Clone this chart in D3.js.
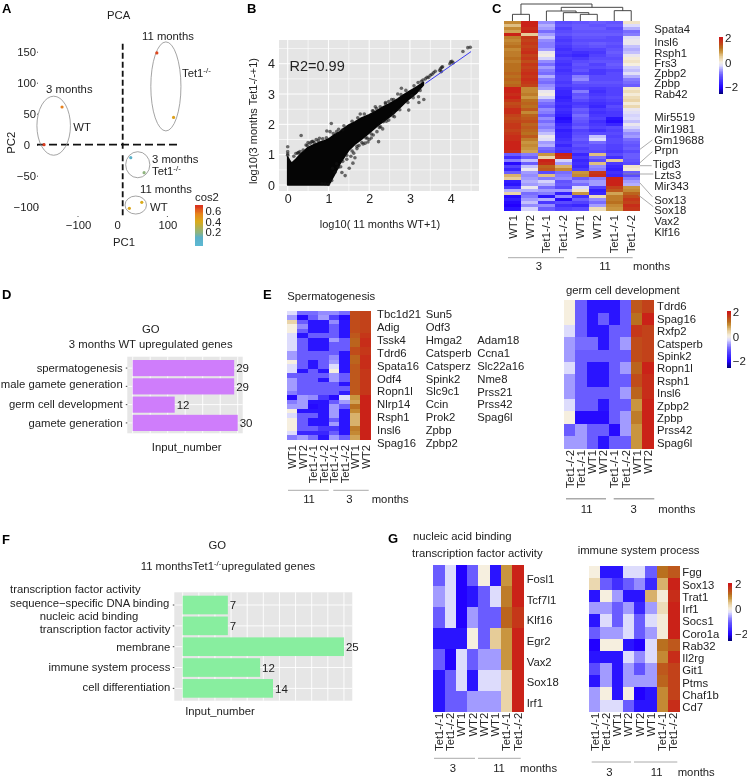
<!DOCTYPE html>
<html><head><meta charset="utf-8">
<script src="https://cdnjs.cloudflare.com/ajax/libs/d3/7.8.5/d3.min.js"></script>
<style>
html,body{margin:0;padding:0;background:#fff}
svg{display:block;filter:blur(0.3px)}
text{font-family:"Liberation Sans",Arial,sans-serif;fill:#222}
</style></head><body>
<svg id="fig" width="747" height="777"></svg>
<script>
// ---------- Panel A data ----------
const pcaX=[76.4,113.8,-135.7,-176,18,47.9,42.7,14.9];
const pcaY=[148,44,60.8,0,-21,-45.2,-93,-102.7];
const pcaCos=[.66,.44,.56,.68,.08,.2,.4,.42];
const ellCx=[96.6,-154.4,33.7,29.2], ellCy=[94,30.6,-32.3,-97.3], ellRx=[33.7,37.5,27,24], ellRy=[71.8,47.6,21,14.5];
const cosTicks=[.2,.4,.6];
// ---------- Panel B data ----------
const envX=[0,.06,.1,.2,.3,.4,.5,.6,.7,.8,.9,1,1.05,1.15,1.28,1.4,1.5,1.65,1.8,2,2.2,2.35,2.5,2.7,2.85,3,3.15,3.33];
const envHi=[.93,.78,.72,.85,1.0,1.12,1.24,1.3,1.36,1.42,1.46,1.52,1.56,1.66,1.76,1.88,1.98,2.08,2.2,2.32,2.46,2.58,2.68,2.84,2.98,3.1,3.22,3.38];
const envLo=[0,0,0,0,0,0,0,0,0,0,0,0,.1,.35,.7,.95,1.15,1.35,1.5,1.72,1.95,2.1,2.25,2.48,2.68,2.86,3.02,3.3];
const ptX=[4.3,4.42,4.48,4.0,4.03,4.06,3.98,3.75,3.78,3.8,3.73,3.77,3.54,3.58,3.62,3.5,3.46,3.32,3.28,3.38,3.42,3.34,3.21,3.22,2.97,2.79,3.05,2.6,2.62,2.48,2.35,2.19,2.23,2.1,2.05,2.0,1.97,1.9,2.28,2.33,1.78,2.1,2.27,2.48,1.07,.96,.33,.59,1.04,1.2,1.35,.62,.7,.78,.86,.5,0,0,0,0,.26,.38,.48,.2,.3,1.33,1.41,1.51,1.1,1,.84,1.2,1.3,1.62,1.7,1.85,1.75,1.92,2.15,2.4,2.55,2.7,2.9,1.45,1.55,1.6,.92,1.65,
.15,.25,.45,.55,.65,.75,.95,1.12,1.25,1.38,1.58,1.72,1.88,2.08,2.18,2.4,2.6,2.78,3.1,3.2,1.08,1.16,1.24,1.35,1.45,1.58,1.7,1.82,1.95,2.05,2.25,2.42,2.58,2.75,2.95,3.08,3.25];
const ptY=[4.4,4.53,4.54,4.06,4.08,4.03,4.0,3.83,3.88,3.9,3.78,3.74,3.65,3.7,3.75,3.62,3.55,3.46,3.42,3.5,3.55,2.82,2.91,2.72,2.47,3.19,2.95,2.38,2.25,2.14,2.09,1.76,1.43,1.65,1.55,1.5,1.42,1.38,1.92,1.85,2.34,2.44,2.58,2.75,2.03,1.78,1.63,1.43,1.76,1.76,1.82,1.44,1.5,1.54,1.52,1.4,1.26,1.1,1.02,.98,1.07,1.15,1.3,1.04,1.1,.41,.31,.55,.55,.02,.05,.7,.6,1.05,1.2,1.35,1.3,1.55,2.58,2.72,2.82,3.0,3.12,.85,.95,.72,.04,.9,
.95,1.05,1.32,1.38,1.4,1.46,1.56,1.7,1.84,1.95,2.1,2.22,2.34,2.45,2.52,2.68,2.82,2.98,3.27,3.38,.15,.42,.58,.78,.98,1.12,1.28,1.4,1.55,1.68,1.9,2.1,2.28,2.48,2.72,2.88,3.12];
const lineX=[3.38,4.5], lineY=[3.35,4.4];
// ---------- Panel C data ----------
const cCols=["WT1","WT2","Tet1-/-1","Tet1-/-2","WT1","WT2","Tet1-/-1","Tet1-/-2"];
const cGenes=["Spata4","Insl6","Rsph1","Frs3","Zpbp2","Zpbp","Rab42","Mir5519","Mir1981","Gm19688","Prpn","Tigd3","Lzts3","Mir343","Sox13","Sox18","Vax2","Klf16"];
const cMatrix=[
[1.0,1.9,-.7,-1.2,-1.1,-1.0,-1.1,.2],[.6,1.9,-.5,-1.1,-1.0,-1.1,-1.0,-.25],[1.0,1.8,-.6,-1.3,-1.0,-1.0,-1.2,-.5],[.8,1.9,-.9,-1.2,-1.1,-1.1,-1.1,-.9],
[1.9,.5,-.6,-1.1,-1.0,-1.0,-1.0,-.8],[1.1,1.7,-.4,-1.3,-1.1,-1.1,-1.2,-.2],[1.0,1.6,-.7,-1.4,-1.2,-1.2,-1.2,-.1],[1.1,1.7,-.8,-1.3,-1.1,-1.0,-1.1,-.1],
[1.2,1.6,-.8,-1.4,-1.2,-1.1,-1.2,-.4],[1.0,1.7,-.6,-1.5,-1.3,-1.3,-1.1,-.5],[1.1,1.8,-.1,-1.4,-1.5,-1.4,-1.0,-.4],[1.1,1.6,0,-1.5,-1.6,-1.3,-1.1,-.1],
[1.2,1.7,-.3,-1.3,-1.4,-1.2,-1.2,.1],[1.1,1.5,-.7,-1.4,-1.2,-1.1,-1.1,.2],[1.2,1.7,-.9,-1.5,-1.1,-1.3,-1.0,.05],[1.2,1.6,-.6,-1.4,-1.2,-1.2,-1.1,-.3],
[1.2,1.7,-.8,-1.5,-1.1,-1.4,-1.3,-.4],[1.3,1.8,-.9,-1.4,-1.3,-1.4,-1.2,-.2],[1.2,1.7,-.5,-1.3,-.8,-1.2,-1.2,-.5],[1.3,1.8,-.8,-1.3,-.7,-1.2,-1.2,-.8],
[1.2,1.7,-.9,-1.4,-1.0,-1.1,-1.1,-.9],[1.3,1.6,-.7,-1.3,-1.2,-1.2,-1.2,-1.0],[1.9,1.0,-.6,-1.5,-1.3,-1.4,-1.3,.15],[1.9,1.0,-.1,-1.6,-.8,-1.5,-1.3,.3],
[1.8,1.1,0,-1.6,-1.1,-1.4,-1.3,.1],[1.9,.9,-.3,-1.7,-1.0,-1.3,-1.2,.3],[1.7,1.2,-.7,-1.6,-1.2,-1.4,-1.3,.4],[1.5,1.3,-.9,-1.5,-1.4,-1.5,-1.4,.1],
[1.6,1.2,-1.0,-1.6,-1.3,-1.6,-1.2,.35],[1.8,1.4,-.7,-1.5,-1.0,-1.4,-1.3,-.1],[1.8,1.0,-.8,-1.6,-1.1,-1.5,-1.4,-.2],[1.6,1.3,-1,-1.7,-.9,-1.4,-1.4,-.3],
[1.5,1.4,-.7,-1.9,-1.0,-1.3,-1.8,-.25],[1.6,1.5,-.9,-1.8,-1.1,-1.5,-1.9,-.4],[1.7,1.3,-.7,-1.6,-1.2,-1.4,-1.6,-.1],[1.7,1.4,-.8,-1.5,-1.0,-1.3,-1.2,-.3],
[1.6,1.3,-.6,-1.7,-1.3,-1.5,-1.3,-.5],[1.7,1.2,-.4,-1.6,-1.2,-1.2,-1.2,-.7],[1.8,1.4,-.1,-1.6,-1.1,-.4,-1.3,-.6],[1.8,1.1,-.2,-1.5,-1.0,-.25,-1.2,-.9],
[1.9,.9,-.6,-1.4,-1.2,-.9,-1.2,-1.0],[1.9,1.0,-.5,-1.6,-1.1,-1.1,-1.3,-1.1],[1.9,.9,-.9,-1.4,-1.3,-1.1,-1.3,-1.0],[1.8,.8,-1.0,-1.5,-1.2,-1.2,-1.4,-1.2],
[-1.0,-.8,.9,1.9,-1.6,.6,-1.2,-1.0],[-1.5,-1.0,.4,1.8,-1.4,-.9,-1.5,-1.0],[-.8,-.4,1.9,-.3,-1.6,-1.2,.5,-1.1],[-1.9,-1.0,1.8,-.6,-1.5,.6,-1.4,-1.2],
[-1.3,-.4,1.3,.7,-1.6,-.7,-1.6,.2],[-1.6,-.1,1.4,1.0,-1.4,-.8,-1.7,.1],[-1.0,-.6,-1.2,-.9,.9,1.7,-1.5,-1.0],[.7,-.7,.6,-.8,1.0,1.8,-1.6,-1.2],
[.5,-.6,-.8,-.7,-1,-.8,1.9,-.8],[-1.7,-.5,-.3,-1.1,-.7,-.6,1.9,-.6],[-1.8,-.6,-.5,-1.0,-.9,-.6,1.9,-.5],[-1.4,-.1,-.9,-1.2,-.25,-1.3,1.6,.9],
[-.5,-.5,-.6,-.6,.2,-1.7,1.4,1.0],[.4,-.9,-.8,-1.7,.9,-1.6,.8,1.3],[-1.9,-.8,-1.8,-.7,-1.5,.3,1.1,1.5],[-1.7,-.6,-.5,-1.9,-1.0,-.7,1.1,1.7],
[-1.9,-.4,-1.4,-1.2,-1.3,-.9,1.2,1.6],[-2,-.7,-.7,-1.5,-1.6,-.6,1.0,1.8],[-1.8,-.3,-1.0,-1.3,-1.2,.3,.9,1.7]];
// dendrogram merges: [left node, right node, height]; leaves are 0..7, internal nodes are numbered from 8
const cMerges=[[0,1,20],[4,5,20],[3,9,25],[2,10,30],[6,7,31],[11,12,41],[8,13,51]];
// ---------- Panel D data ----------
const dTerms=["spermatogenesis","male gamete generation","germ cell development","gamete generation"];
const dValues=[29,29,12,30];
// ---------- Panel E data ----------
const eColsL=["WT1","WT2","Tet1-/-1","Tet1-/-2","Tet1-/-1","Tet1-/-2","WT1","WT2"];
const eGenes1=["Tbc1d21","Adig","Tssk4","Tdrd6","Spata16","Odf4","Ropn1l","Nlrp14","Rsph1","Insl6","Spag16"];
const eGenes2=["Sun5","Odf3","Hmga2","Catsperb","Catsperz","Spink2","Slc9c1","Ccin","Prok2","Zpbp","Zpbp2"];
const eGenes3=["Adam18","Ccna1","Slc22a16","Nme8","Prss21","Prss42","Spag6l"];
const eMatrixL=[
[-.25,-.9,-.9,-.7,-.7,-.9,1.5,1.6],[-.6,-1.9,-1,-.6,-1.3,-1.9,1.5,1.6],[.4,-1,-1.8,-1.8,-.7,-1.8,1.5,1.6],[.05,-.7,-1.8,-1.8,-1,-1.8,1.5,1.6],
[.05,-1,-1.8,-1.8,-1,-1.8,1.5,1.6],[-.25,-1.8,-1,-1,-1,-1.8,1.4,1.7],[-.25,-1,-1.8,-1.8,-.6,-1,1.3,1.8],[-.25,-1,-1.8,-1.8,-1,-1,1.3,1.8],
[-.25,-1,-1.8,-1.8,-1,-1,1.5,1.7],[-.6,-1,-1,-1,-1,-1.8,1.5,1.7],[-.6,-1,-1,-1,-.7,-1.8,1.3,1.8],[.05,-1,-1.8,-1,-.6,-1.8,1.3,1.8],
[-.25,-1,-1.8,-1,-.25,-1.8,1.4,1.8],[-.25,-1.8,-1,-1.8,.05,-1.8,1.4,1.7],[-1,-1,-1,-1,-.6,-1,1.4,1.7],[-.6,-1,-1,-1.8,-.6,-1,1.4,1.7],
[-.6,-1,-1,-1,-1,-1.8,1.4,1.7],[-.6,-1,-1,-1,-1,-1,1.4,1.7],[-.8,-1,-1,-1,-1,-1.7,1.4,1.7],[-1.9,-.6,-.7,-1.4,-1.9,-.25,.9,1.9],
[-.8,-.6,-1.8,-1.8,-1,-.6,.8,1.9],[-.6,-.6,-1.9,-1.8,-.6,-1,1.2,1.9],[.05,-1.8,-1.8,-1.8,-.6,-1.8,1,1.9],[-.25,-1,-1,-1.8,-.6,-1.8,.7,1.9],
[.05,-1,-1.8,-1.8,-1,-1.8,.7,1.9],[.05,-1,-1.8,-1.8,-.6,-1.8,.7,1.9],[.05,-1,-1,-1.4,-1.4,-1.8,1.1,1.9],[-.25,-1.6,-1.6,-1.6,-1,-1.8,1,1.9],[-.8,-.6,-.9,-1.8,-.6,-1,.8,1.9]];
const eColsR=["Tet1-/-2","Tet1-/-1","WT1","WT2","Tet1-/-1","Tet1-/-2","WT1","WT2"];
const eGenesR=["Tdrd6","Spag16","Rxfp2","Catsperb","Spink2","Ropn1l","Rsph1","Insl6","Zpbp2","Zpbp","Prss42","Spag6l"];
const eMatrixR=[
[.05,-1,-1.8,-1.8,-1.8,-1,1.4,1.6],[.05,-1,-1.8,-1,-1.8,-1,1.2,1.9],[-.25,-1,-1.8,-1.8,-1,-1,1.7,1.6],[-.6,-.9,-.9,-1.8,-1,-.6,1.5,1.6],
[-.6,-1,-1,-1,-1,-1,1.5,1.6],[-.25,-1,-1.8,-1.8,-1,-.6,1.3,1.9],[-.6,-1,-1.8,-1.8,-1,-1,1.5,1.8],[-.6,-1,-1,-1,-1,-.6,1.3,1.8],
[-.25,-1,-1,-1.8,-1,-1,.9,1.9],[.05,-1.9,-1.9,-1.9,-1,-.6,1.1,1.9],[-1,-.6,-1,-1,-1.9,-.6,.9,1.9],[-.6,-.6,-1,-1.8,-1,-1,.9,1.9]];
// ---------- Panel F data ----------
const fValues=[7,7,25,12,14];
// ---------- Panel G data ----------
const gCols=["Tet1-/-1","Tet1-/-2","WT1","WT2","WT2","WT1","Tet1-/-1","Tet1-/-2"];
const gGenesL=["Fosl1","Tcf7l1","Klf16","Egr2","Vax2","Sox18","Irf1"];
const gMatrixL=[
[-1,-.25,-2,-1,.05,-1.8,.9,1.9],[-.6,-.25,-2,-1.8,-1,-.25,1.1,1.9],[-1,-.25,-2,-.6,-1,-1,1.3,1.7],[-1.8,-1.8,-1.8,.05,-1,.5,.9,1.9],
[-1,-2,-.25,-1,-.6,-.6,.9,1.9],[-1.8,-1,-.25,-1.8,-.25,-.25,.4,1.9],[-1.8,-1,-1,-.6,-.6,-.6,.4,1.9]];
const gGenesR=["Fgg","Sox13","Trat1","Irf1","Socs1","Coro1a","Rab32","Il2rg","Git1","Ptms","Chaf1b","Cd7"];
const gMatrixR=[
[.05,-1.8,-1.8,-.25,-.25,-1,1.2,1.4],[.35,-1,-1.5,-1,-.7,-1.6,.7,1.9],[-1.8,.05,-.6,-1.8,-1.8,.7,.1,1.8],[-.6,-.6,-1,-.6,-1.6,-.6,.3,1.9],
[-1.8,-.25,-1,-.25,-1,-.25,.1,1.9],[-1,-.6,-.6,-.25,-1,-.6,.1,1.9],[-2,.05,.05,-1.8,-2,-.25,1.2,1.4],[-1.8,-1.8,-1.8,-.25,-.7,-.25,1,1.8],
[-1.2,-.6,-1.8,-.6,-1.1,-.6,1.4,1.6],[-1.8,-.6,-1.8,-.6,-.6,-.6,1.3,1.6],[-.6,.05,-1.8,.05,-2,-1.8,1,1.6],[-.6,-.25,-.25,-1,-1.8,-1.8,1,1.8]];

// ---------- helpers ----------
const svg=d3.select("#fig");
const FS=11.3;
function txt(x,y,s,o={}){
  const t=svg.append("text").attr("x",x).attr("y",y).attr("dy",".36em")
    .attr("font-size",o.size||FS).attr("text-anchor",o.anchor||"start")
    .attr("font-weight",o.weight||null).text(s);
  if(o.rotate) t.attr("transform",`rotate(${o.rotate},${x},${y})`);
  return t;
}
function supTet(x,y,anchor){ // "Tet1" + superscript -/-
  const t=txt(x,y,"Tet1",{anchor:anchor});
  t.append("tspan").attr("dy","-.45em").attr("font-size",8).text("-/-");
  return t;
}
const heat=d3.scaleLinear()
  .domain([-2.5,-2,-1.8,-1,-.6,-.25,.05,.5,.9,1.2,1.5,2])
  .range(["#00007c","#2200ff","#2a14ff","#6a5cff","#a29bff","#dddcfc","#f6efdf","#e6cc98","#c9953f","#b9701f","#c04c1a","#cc1818"]);
function heatmap(m,x0,x1,y0,y1){
  const x=d3.scaleBand().domain(d3.range(m[0].length)).range([x0,x1]);
  const y=d3.scaleBand().domain(d3.range(m.length)).range([y0,y1]);
  svg.append("g").attr("shape-rendering","crispEdges").selectAll("g").data(m).join("g")
    .selectAll("rect").data((r,i)=>r.map((v,j)=>({v,i,j}))).join("rect")
    .attr("x",d=>x(d.j)).attr("y",d=>y(d.i)).attr("width",x.bandwidth()+.5).attr("height",y.bandwidth()+.5)
    .attr("fill",d=>heat(d.v));
  return {x,y};
}
function colLabels(cols,x,top){
  cols.forEach((c,i)=>txt(x(i)+x.bandwidth()/2,top,c,{anchor:"end",rotate:-90}));
}
function rowLabels(names,x,y0,y1){
  const s=d3.scalePoint().domain(d3.range(names.length)).range([y0,y1]);
  names.forEach((n,i)=>txt(x,s(i),n));
}
function groupBar(y,segs,w){
  segs.forEach(s=>svg.append("line").attr("x1",s[0]).attr("x2",s[1]).attr("y1",y).attr("y2",y)
    .attr("stroke","#aaa").attr("stroke-width",w||1));
}
function colorbar(x0,x1,yTop,y2,yM2,labelX){
  const sc=d3.scaleLinear().domain([-2,2]).range([yM2,y2]);
  const vals=d3.range(-2.5,2.001,.05);
  svg.append("g").attr("shape-rendering","crispEdges").selectAll("rect").data(vals).join("rect")
    .attr("x",x0).attr("width",x1-x0).attr("y",d=>sc(d)-1).attr("height",1.6).attr("fill",d=>heat(d));
  const ax=svg.append("g").attr("transform",`translate(${labelX-3},0)`)
    .call(d3.axisRight(sc).tickValues([-2,0,2]).tickFormat(d3.format("d")).tickSize(0).tickPadding(3));
  ax.select(".domain").remove();
  ax.selectAll("text").attr("font-size",11.5);
}

// ---------- panel letters ----------
[["A",2,8],["B",247,8],["C",492,8],["D",2,294],["E",263,294],["F",2,539],["G",388,538]]
  .forEach(d=>txt(d[1],d[2],d[0],{size:13,weight:"bold"}).style("fill","#000"));

// ---------- A ----------
(function(){
  const x=d3.scaleLinear().domain([-100,100]).range([78,167.4]);
  const y=d3.scaleLinear().domain([-100,150]).range([206.7,51.7]);
  const ax=svg.append("g").attr("transform","translate(0,227)")
    .call(d3.axisBottom(x).tickValues([-100,0,100]).tickFormat(d3.format("d")).tickSize(0).tickPadding(-4));
  ax.select(".domain").remove();
  ax.selectAll("text").attr("font-size",FS).attr("dx",d=>d===0?-5.5:0).attr("dy",".5em");
  svg.selectAll(null).data([-100,100]).join("circle").attr("cx",d=>x(d)).attr("cy",216.5).attr("r",.6).attr("fill","#444");
  const ay=svg.append("g").attr("transform","translate(38,0)")
    .call(d3.axisLeft(y).tickValues([-100,-50,0,50,100,150]).tickFormat(d3.format("d")).tickSize(1).tickPadding(1));
  ay.select(".domain").remove();
  ay.selectAll("text").attr("font-size",FS).attr("dx",d=>d===0?-6:d===-100?3:0);
  ay.selectAll("line").attr("stroke","#444");
  svg.append("line").attr("x1",37).attr("x2",178).attr("y1",y(0)).attr("y2",y(0))
    .attr("stroke","#111").attr("stroke-width",1.8).attr("stroke-dasharray","8,4");
  [[150,10],[-30,-100]].forEach(s=>svg.append("line").attr("x1",x(0)).attr("x2",x(0)).attr("y1",y(s[0])-8).attr("y2",y(s[1])+11)
    .attr("stroke","#111").attr("stroke-width",1.8).attr("stroke-dasharray","6,3"));
  svg.selectAll(null).data(ellCx).join("ellipse")
    .attr("cx",d=>x(d)).attr("cy",(d,i)=>y(ellCy[i]))
    .attr("rx",(d,i)=>x(ellRx[i])-x(0)).attr("ry",(d,i)=>y(0)-y(ellRy[i]))
    .attr("fill","none").attr("stroke","#8d8d8d").attr("stroke-width",.8);
  const cos=d3.scaleLinear().domain([-.05,.1,.2,.4,.55,.7]).range(["#5cb8d2","#5cb0c8","#8fb47e","#d9ab1c","#e7861c","#d9301f"]);
  svg.selectAll(null).data(pcaX).join("circle")
    .attr("cx",d=>x(d)).attr("cy",(d,i)=>y(pcaY[i])).attr("r",1.6).attr("fill",(d,i)=>cos(pcaCos[i]));
  const lg=d3.scaleLinear().domain([.2,.6]).range([232,211]);
  svg.append("g").attr("shape-rendering","crispEdges").selectAll("rect").data(d3.range(-.05,.7,.01)).join("rect")
    .attr("x",195).attr("width",8).attr("y",d=>lg(d)-1).attr("height",1.5).attr("fill",d=>cos(d));
  cosTicks.forEach(v=>txt(205.5,lg(v),d3.format(".1f")(v)));
  txt(195,197,"cos2");
  txt(118.7,15,"PCA",{anchor:"middle"});
  txt(124,242,"PC1",{anchor:"middle"});
  txt(11,142.7,"PC2",{anchor:"middle",rotate:-90});
  txt(168,36,"11 months",{anchor:"middle"});
  supTet(182,72.7);
  txt(69.3,89,"3 months",{anchor:"middle"});
  txt(73.3,126.7,"WT");
  txt(152,159,"3 months");
  supTet(152,170.5);
  txt(140,189,"11 months");
  txt(150,207,"WT");
})();

// ---------- B ----------
(function(){
  const x=d3.scaleLinear().domain([0,4]).range([287.7,450.7]);
  const y=d3.scaleLinear().domain([0,4]).range([185,63.7]);
  svg.append("rect").attr("x",279).attr("y",40).attr("width",200).attr("height",151).attr("fill","#e5e5e5");
  const gv=d3.range(0,4.6,.5), gh=d3.range(0,4.6,.5);
  svg.selectAll(null).data(gv).join("line").attr("x1",d=>x(d)).attr("x2",d=>x(d)).attr("y1",40).attr("y2",191)
    .attr("stroke","#fff").attr("stroke-width",(d,i)=>i%2?.6:1);
  svg.selectAll(null).data(gh).join("line").attr("y1",d=>y(d)).attr("y2",d=>y(d)).attr("x1",279).attr("x2",479)
    .attr("stroke","#fff").attr("stroke-width",(d,i)=>i%2?.6:1);
  const area=d3.area().x(d=>x(d[0])).y0(d=>y(d[1])).y1(d=>y(d[2]));
  svg.append("path").attr("d",area(envX.map((v,i)=>[v,envLo[i],envHi[i]]))).attr("fill","#050505")
    .attr("stroke","#050505").attr("stroke-width",1.6).attr("stroke-linejoin","round");
  svg.selectAll(null).data(ptX).join("circle").attr("cx",d=>x(d)).attr("cy",(d,i)=>y(ptY[i])).attr("r",1.8)
    .attr("fill","#111").attr("fill-opacity",.6);
  svg.append("line").attr("x1",x(lineX[0])).attr("y1",y(lineY[0])).attr("x2",x(lineX[1])).attr("y2",y(lineY[1]))
    .attr("stroke","#3c3cf0").attr("stroke-width",1);
  const ax=svg.append("g").attr("transform","translate(0,191)")
    .call(d3.axisBottom(x).tickValues([0,1,2,3,4]).tickFormat(d3.format("d")).tickSize(0).tickPadding(3));
  ax.select(".domain").remove(); ax.selectAll("text").attr("font-size",12.5);
  const ay=svg.append("g").attr("transform","translate(279,0)")
    .call(d3.axisLeft(y).tickValues([0,1,2,3,4]).tickFormat(d3.format("d")).tickSize(0).tickPadding(4));
  ay.select(".domain").remove(); ay.selectAll("text").attr("font-size",12.5);
  txt(289.5,66,"R2=0.99",{size:14.5});
  txt(380,224,"log10( 11 months WT+1)",{anchor:"middle",size:11});
  txt(253,121,"log10(3 months Tet1-/-+1)",{anchor:"middle",size:11,rotate:-90});
})();

// ---------- C ----------
(function(){
  const h=heatmap(cMatrix,504,639.7,21,210);
  const leafX=i=>h.x(i)+h.x.bandwidth()/2;
  const hy=d3.scaleLinear().domain([0,51]).range([21,4]);
  const nodes=d3.range(8).map(i=>({x:leafX(i),h:0}));
  const g=svg.append("g").attr("fill","none").attr("stroke","#333").attr("stroke-width",.9);
  cMerges.forEach(m=>{
    const a=nodes[m[0]],b=nodes[m[1]];
    const path=d3.path();
    path.moveTo(a.x,hy(a.h));path.lineTo(a.x,hy(m[2]));path.lineTo(b.x,hy(m[2]));path.lineTo(b.x,hy(b.h));
    g.append("path").attr("d",path.toString());
    nodes.push({x:(a.x+b.x)/2,h:m[2]});
  });
  colLabels(cCols,h.x,215);
  const gy=[28.7,41.7,53.3,63,73,83.3,94.3,117,129,139.7,150,164,175,186,200,210,221,232];
  cGenes.forEach((n,i)=>txt(n==="Tigd3"?652.7:654.3,gy[i],n));
  [[640,149.3,652.3,140],[640,162.7,652.3,151.7],[640,165.7,651.7,165.7],[622.7,174,653.3,174],[639.7,182.7,652.3,196.7],[638.3,195,653.3,206.7]]
    .forEach(l=>svg.append("line").attr("x1",l[0]).attr("y1",l[1]).attr("x2",l[2]).attr("y2",l[3]).attr("stroke","#888").attr("stroke-width",.7));
  groupBar(257.7,[[508,564],[576.7,632.7]]);
  txt(539,265.5,"3",{anchor:"middle"});txt(605,265.5,"11",{anchor:"middle"});txt(633,265.5,"months");
  colorbar(719,723,37.3,37.7,87.3,725);
})();

// ---------- bars ----------
function bars(terms,vals,o){
  const x=d3.scaleLinear().domain([0,o.max]).range([o.x0,o.x0+o.max*o.k]);
  const y=d3.scaleBand().domain(d3.range(vals.length)).range([o.y0,o.y1]).paddingInner(o.pad).paddingOuter(0);
  svg.append("rect").attr("x",o.bx0).attr("y",o.by0).attr("width",o.bx1-o.bx0).attr("height",o.by1-o.by0).attr("fill","#e6e6e6");
  svg.selectAll(null).data(d3.range(0,o.max+.01,o.step)).join("line").attr("x1",d=>x(d)).attr("x2",d=>x(d)).attr("y1",o.by0).attr("y2",o.by1)
    .attr("stroke","#fff").attr("stroke-width",.9);
  svg.selectAll(null).data(vals).join("line").attr("y1",(d,i)=>y(i)+y.bandwidth()/2).attr("y2",(d,i)=>y(i)+y.bandwidth()/2)
    .attr("x1",o.bx0).attr("x2",o.bx1).attr("stroke","#fff").attr("stroke-width",.9);
  svg.selectAll(null).data(vals).join("rect").attr("x",x(0)).attr("y",(d,i)=>y(i)).attr("height",y.bandwidth())
    .attr("width",d=>x(d)-x(0)).attr("fill",o.color);
  vals.forEach((v,i)=>txt(x(v)+o.off,y(i)+y.bandwidth()/2,v,{size:11.5}));
  const ay=svg.append("g").attr("transform",`translate(${o.bx0},0)`)
    .call(d3.axisLeft(y).tickSize(1.5).tickFormat(""));
  ay.select(".domain").remove(); ay.selectAll("line").attr("stroke","#444");
}
bars(dTerms,dValues,{x0:132.7,k:3.5,max:30,step:5,y0:360,y1:431,pad:.115,bx0:127.3,bx1:242.7,by0:356.7,by1:433.3,color:"#cf7dfb",off:2});
dTerms.forEach((t,i)=>txt(122.7,[368,384,404.3,422.7][i],t,{anchor:"end"}));
txt(150.7,329,"GO",{anchor:"middle"});
txt(150.7,344,"3 months WT upregulated genes",{anchor:"middle"});
txt(186.7,447,"Input_number",{anchor:"middle"});

bars([],fValues,{x0:182.7,k:6.45,max:25,step:2.5,y0:595.7,y1:697.7,pad:.105,bx0:174.3,bx1:352.3,by0:592.3,by1:700.7,color:"#88ee9f",off:2});
[[10,589,"transcription factor activity"],[10,602.7,"sequence\u2212specific DNA binding"],[39.7,615.7,"nucleic acid binding"],[39.7,629.3,"transcription factor activity"]]
  .forEach(d=>txt(d[0],d[1],d[2]));
txt(170.3,647.3,"membrane",{anchor:"end"});
txt(170.3,667,"immune system process",{anchor:"end"});
txt(170.3,687.3,"cell differentiation",{anchor:"end"});
txt(217.3,544.7,"GO",{anchor:"middle"});
(function(){
  const t=txt(140.7,566,"11 monthsTet1");
  t.append("tspan").attr("dy","-.45em").attr("font-size",8).text("-/-");
  t.append("tspan").attr("dy",".32em").text("upregulated genes");
})();
txt(220,710.7,"Input_number",{anchor:"middle"});

// ---------- E ----------
(function(){
  const h=heatmap(eMatrixL,287,370.7,311,439.7);
  colLabels(eColsL,h.x,445);
  txt(287.3,295.7,"Spermatogenesis");
  rowLabels(eGenes1,377,314.3,442.7);
  rowLabels(eGenes2,425.7,314.3,442.7);
  rowLabels(eGenes3,477.3,339.7,417.3);
  groupBar(490.3,[[288,328.7],[333.3,368.7]]);
  txt(309,498.7,"11",{anchor:"middle"});txt(349.3,498.7,"3",{anchor:"middle"});txt(371.7,498.7,"months");

  const r=heatmap(eMatrixR,564.3,653.3,300.3,448.3);
  colLabels(eColsR,r.x,450);
  txt(566,289.7,"germ cell development");
  rowLabels(eGenesR,657,306.3,442.7);
  groupBar(498.7,[[566,606],[613.7,654.3]],1.4);
  txt(586.7,509,"11",{anchor:"middle"});txt(633.7,509,"3",{anchor:"middle"});txt(658.3,509,"months");
  colorbar(727.3,731.3,311,311.7,361,732.7);
})();

// ---------- G ----------
(function(){
  const h=heatmap(gMatrixL,433.3,523.3,565,711.7);
  colLabels(gCols,h.x,712.7);
  txt(413,535.7,"nucleic acid binding");
  txt(412,552.7,"transcription factor activity");
  rowLabels(gGenesL,526.7,579,702.7);
  groupBar(758.3,[[434,475],[478,520.7]]);
  txt(453,768,"3",{anchor:"middle"});txt(499,768,"11",{anchor:"middle"});txt(520,768,"months");

  const r=heatmap(gMatrixR,589,679,565.7,711.7);
  colLabels(gCols,r.x,712.7);
  txt(577.7,550,"immune system process");
  rowLabels(gGenesR,682.3,572.3,707);
  groupBar(762,[[591.7,631],[634,677.3]]);
  txt(609.3,771.7,"3",{anchor:"middle"});txt(656.7,771.7,"11",{anchor:"middle"});txt(677.7,771.7,"months");
  colorbar(728.3,732.3,583.3,584.3,634,735);
})();
</script>
</body></html>
